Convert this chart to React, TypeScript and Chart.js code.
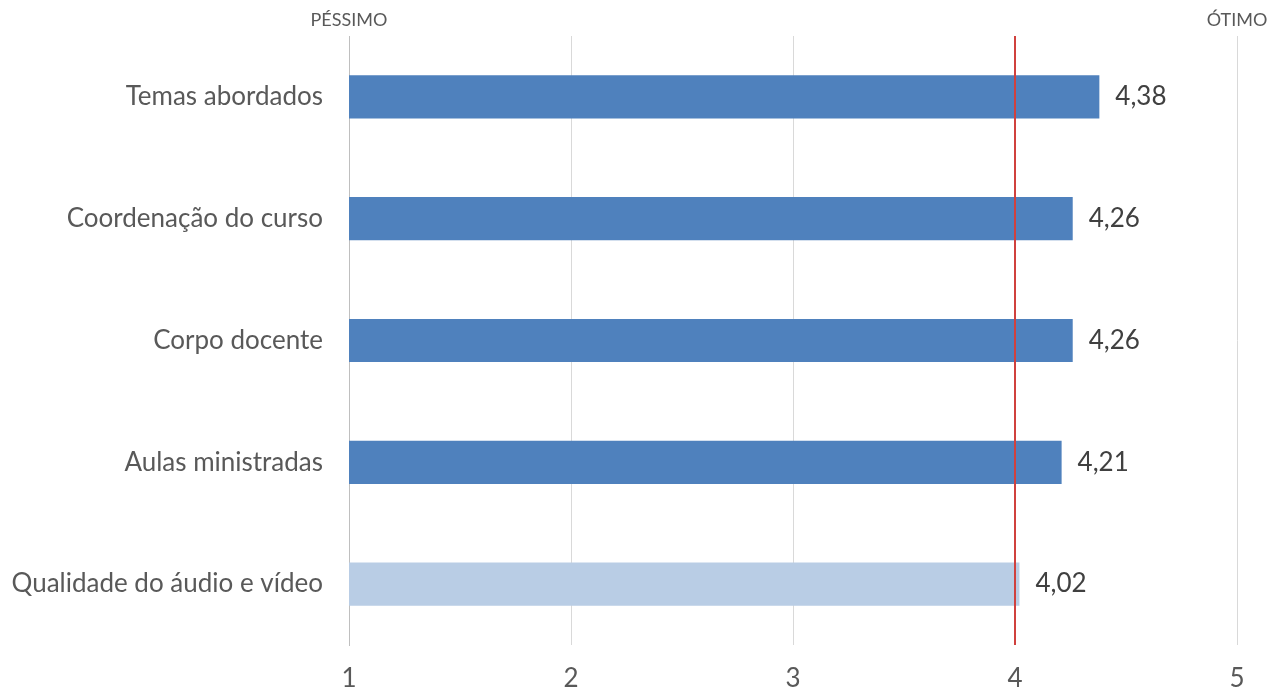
import React, { useEffect, useRef } from "react";
import { Chart, registerables } from "chart.js";

Chart.register(...registerables);

const categories = [
  "Temas abordados",
  "Coordenação do curso",
  "Corpo docente",
  "Aulas ministradas",
  "Qualidade do áudio e vídeo",
];
const values = [4.38, 4.26, 4.26, 4.21, 4.02];
const barColors = ["#4f81bd", "#4f81bd", "#4f81bd", "#4f81bd", "#b9cde5"];
const scaleMin = 1;
const scaleMax = 5;
const referenceValue = 4;
const lowLabel = "PÉSSIMO";
const highLabel = "ÓTIMO";

const FONT = "Lato, 'Open Sans', sans-serif";
const TEXT = "#595959";

const overlayPlugin = {
  id: "overlay",
  afterDatasetsDraw(chart: any) {
    const { ctx, chartArea, scales } = chart;
    const x = scales.x;
    ctx.save();
    // reference line
    const rx = x.getPixelForValue(referenceValue);
    ctx.strokeStyle = "#d0413e";
    ctx.lineWidth = 2;
    ctx.beginPath();
    ctx.moveTo(rx, chartArea.top);
    ctx.lineTo(rx, chartArea.bottom);
    ctx.stroke();
    // data labels
    const meta = chart.getDatasetMeta(0);
    ctx.fillStyle = "#404040";
    ctx.font = `26px ${FONT}`;
    ctx.textAlign = "left";
    ctx.textBaseline = "middle";
    meta.data.forEach((bar: any, i: number) => {
      const txt = values[i].toFixed(2).replace(".", ",");
      ctx.fillText(txt, bar.x + 16, bar.y);
    });
    // top labels
    ctx.fillStyle = TEXT;
    ctx.font = `18px ${FONT}`;
    ctx.textAlign = "center";
    ctx.textBaseline = "middle";
    ctx.fillText(lowLabel, x.getPixelForValue(scaleMin), 20);
    ctx.fillText(highLabel, x.getPixelForValue(scaleMax), 20);
    ctx.restore();
  },
};

export default function App() {
  const ref = useRef<HTMLCanvasElement>(null);
  useEffect(() => {
    if (!ref.current) return;
    const chart = new Chart(ref.current, {
      type: "bar",
      data: {
        labels: categories,
        datasets: [
          {
            data: values,
            backgroundColor: barColors,
            borderWidth: 0,
            barPercentage: 0.355,
            categoryPercentage: 1,
          },
        ],
      },
      options: {
        indexAxis: "y",
        animation: false,
        responsive: false,
        maintainAspectRatio: false,
        layout: { padding: { top: 36, right: 33, left: 0, bottom: 0 } },
        plugins: {
          legend: { display: false },
          tooltip: { enabled: false },
        },
        scales: {
          x: {
            type: "linear",
            min: scaleMin,
            max: scaleMax,
            ticks: {
              stepSize: 1,
              color: TEXT,
              font: { size: 26, family: FONT },
              padding: 18,
            },
            grid: { color: "#d9d9d9", lineWidth: 1, drawTicks: false },
            border: { display: false },
            afterFit: (axis: any) => {
              axis.height = 45;
              axis.paddingLeft = 0;
              axis.paddingRight = 0;
            },
          },
          y: {
            ticks: {
              color: TEXT,
              font: { size: 26, family: FONT },
              padding: 26,
            },
            grid: { display: false, drawTicks: false },
            border: { display: true, color: "#bfbfbf", width: 1 },
            afterFit: (axis: any) => {
              axis.width = 349;
              axis.paddingTop = 0;
              axis.paddingBottom = 0;
            },
          },
        },
      },
      plugins: [overlayPlugin],
    } as any);
    return () => chart.destroy();
  }, []);
  return (
    <div style={{ position: "fixed", left: 0, top: 0, width: 1270, height: 690, background: "#ffffff" }}>
      <canvas ref={ref} width={1270} height={690} style={{ display: "block" }} />
    </div>
  );
}
